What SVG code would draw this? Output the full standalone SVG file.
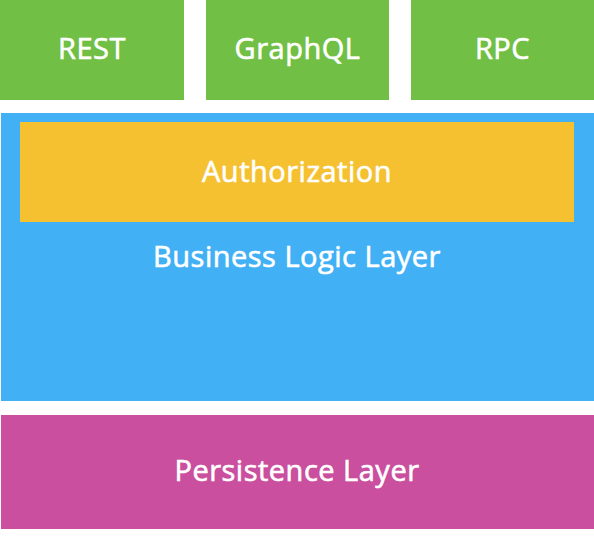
<svg xmlns="http://www.w3.org/2000/svg" width="594" height="558" viewBox="0 0 594 558">
<style>
.t{font-family:"Open Sans","DejaVu Sans",sans-serif;font-size:29px;letter-spacing:0.5px;fill:#fff;stroke:#fff;stroke-width:0.6px;text-anchor:middle}
</style>
<rect width="594" height="558" fill="#fff"/>
<g id="rest"><rect x="0" y="0" width="184" height="100" fill="#71bf44"/><text class="t" x="92" y="59">REST</text></g>
<g id="graphql"><rect x="206" y="0" width="183" height="100" fill="#71bf44"/><text class="t" x="297.5" y="59">GraphQL</text></g>
<g id="rpc"><rect x="411" y="0" width="183" height="100" fill="#71bf44"/><text class="t" x="502.5" y="59">RPC</text></g>
<g id="business"><rect x="1" y="113" width="593" height="288" fill="#42b0f5"/><text class="t" x="297" y="267">Business Logic Layer</text></g>
<g id="authorization"><rect x="20" y="122" width="554" height="100" fill="#f5c131"/><text class="t" x="297" y="182">Authorization</text></g>
<g id="persistence"><rect x="1" y="415" width="593" height="114" fill="#ca4f9e"/><text class="t" x="297" y="481">Persistence Layer</text></g>
<g id="connectors"/>
</svg>
